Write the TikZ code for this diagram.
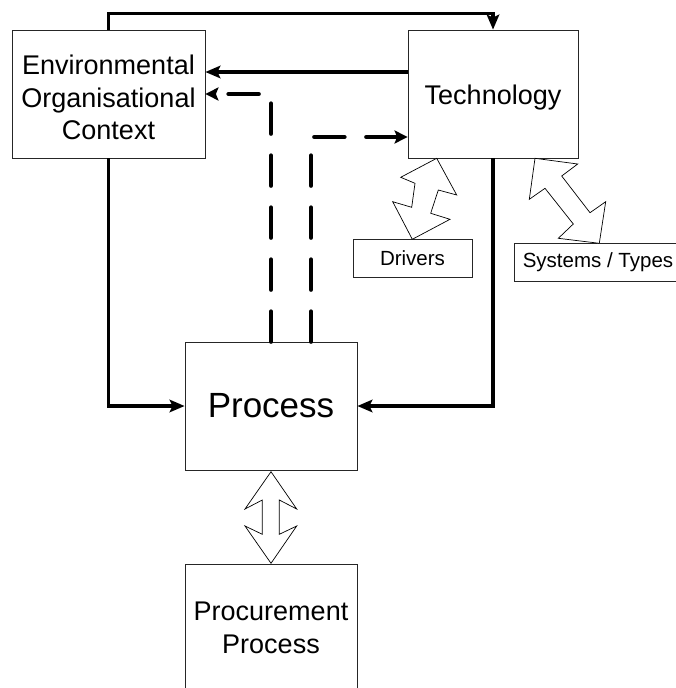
\documentclass[tikz,border=0pt]{standalone}
\usepackage{fontspec}
\setmainfont{Liberation Sans}
\usepackage{tikz}
\usetikzlibrary{arrows.meta, positioning, calc}

\begin{document}
\begin{tikzpicture}[x=1pt, y=-1pt,
    box/.style={draw=black!85, line width=0.8pt, fill=white, inner sep=0pt, align=center,
        font=\fontsize{27}{32.5}\selectfont},
    smallbox/.style={box, font=\fontsize{20.5}{24}\selectfont},
    flow/.style={line width=3.2pt, line join=miter, -{Stealth[length=15pt, width=12.5pt, inset=3pt]}},
    dashflow/.style={line width=4.5pt, line cap=round, dash pattern=on 30pt off 22pt,
        -{Stealth[length=13pt, width=13pt, inset=2.5pt]}},
    blockarrow/.style={draw=black, line width=0.7pt, fill=white, line join=miter}]
    \useasboundingbox (0,0) rectangle (675,688);

    % Main boxes
    \node[box, minimum width=193pt, minimum height=128pt, text height=92pt] (env) at (108.5,94)
        {Environmental\\Organisational\\Context};
    \node[box, minimum width=170pt, minimum height=128pt, text height=27pt] (tech) at (493,94) {Technology};
    \node[box, minimum width=172pt, minimum height=128pt, font=\fontsize{35}{42}\selectfont]
        (proc) at (271,406) {Process};
    \node[box, minimum width=172pt, minimum height=128pt] (procure) at (271,628)
        {Procurement\\Process};

    % Side boxes under Technology
    \node[smallbox, minimum width=119pt, minimum height=38pt] (drivers) at (412.5,258) {Drivers};
    \node[smallbox, minimum width=168pt, minimum height=38pt] (systems) at (598,262) {Systems / Types};

    % Solid connectors
    \draw[flow] (env.north) -- ++(0,-16) -| (tech.north);
    \draw[flow] ([yshift=22pt]tech.west) -- ([yshift=22pt]env.east);
    \draw[flow] (env.south) |- (proc.west);
    \draw[flow] (tech.south) |- (proc.east);

    % Dashed feedback
    \draw[dashflow] (proc.north) |- (env.east);
    \draw[dashflow] ([xshift=40pt]proc.north) |- ([yshift=-43pt]tech.west);

    % Two-way block arrows
    \draw[blockarrow] (436.7,158.3) -- (456.7,195) -- (438.3,190) -- (430.7,213.3) -- (450,219.3)
        -- (412.3,239.3) -- (392.7,201.7) -- (411.7,207.3) -- (415,183.3) -- (400.7,177.3) -- cycle;
    \draw[blockarrow] (535,158.3) -- (577.7,164) -- (561.7,176) -- (590,212.7) -- (605.7,201.7)
        -- (599.3,243.3) -- (558.3,238.3) -- (573.3,224) -- (545,188.3) -- (529.3,199.3) -- cycle;
    \draw[blockarrow] (271,471.7) -- (296.7,509) -- (279.3,500) -- (279.3,534.3) -- (296.7,526)
        -- (271,563.3) -- (245,526) -- (262.3,534.3) -- (262.3,500) -- (245,509) -- cycle;
\end{tikzpicture}
\end{document}
